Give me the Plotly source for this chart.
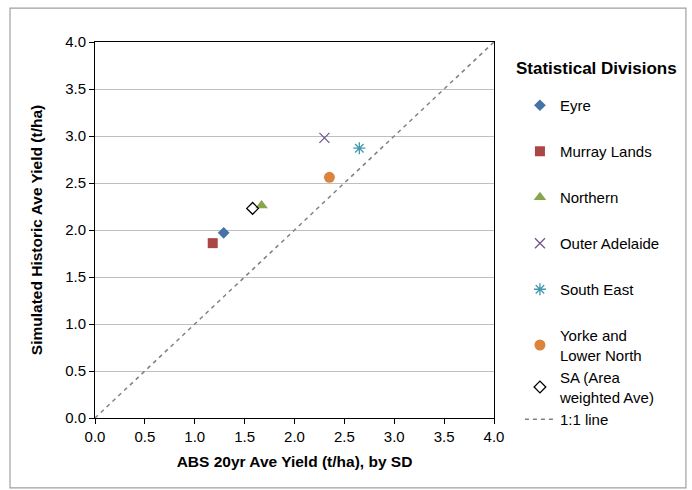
import plotly.graph_objects as go

# Average yields by Statistical Division (t/ha)
divisions = ["Eyre", "Murray Lands", "Northern", "Outer Adelaide", "South East",
             "Yorke and<br>Lower North", "SA (Area<br>weighted Ave)"]
abs_yield = [1.29, 1.18, 1.67, 2.30, 2.65, 2.35, 1.58]
sim_yield = [1.97, 1.86, 2.26, 2.98, 2.87, 2.56, 2.23]

colors = ["#4572A7", "#AA4643", "#89A54E", "#71588F", "#4198AF", "#DB843D", "#000000"]
symbols = ["diamond", "square", "triangle-up", "x-thin-open", "asterisk-open",
           "circle", "diamond-open"]
sizes = [9, 10, 11, 10, 10, 11, 9]
# the multi-line entries and the reference line share one legend group,
# so they stack without the extra group gap
groups = ["g0", "g1", "g2", "g3", "g4", "g5", "g5"]

ref_line = [0.0, 4.0]
ticks = [0.0, 0.5, 1.0, 1.5, 2.0, 2.5, 3.0, 3.5, 4.0]
tick_text = [f"{t:.1f}" for t in ticks]

FONT = "Liberation Sans, Arial, sans-serif"

fig = go.Figure()
for i, name in enumerate(divisions):
    fig.add_trace(go.Scatter(
        x=[abs_yield[i]], y=[sim_yield[i]], mode="markers", name=name,
        legendgroup=groups[i],
        marker=dict(symbol=symbols[i], size=sizes[i], color=colors[i],
                    line=dict(color=colors[i], width=1.3 if "open" in symbols[i] else 0)),
    ))

fig.add_trace(go.Scatter(
    x=ref_line, y=ref_line, mode="lines", name="1:1 line", legendgroup="g5",
    line=dict(color="#808080", width=1.5, dash="4px,4px"),
))

axis_common = dict(
    range=[0, 4], tickvals=ticks, ticktext=tick_text,
    showline=True, linecolor="#000000", linewidth=1, mirror=True,
    ticks="outside", ticklen=5, tickcolor="#000000",
    tickfont=dict(family=FONT, size=15, color="#000000"),
    zeroline=False,
)

fig.update_xaxes(**axis_common, showgrid=False,
                 title=dict(text="<b>ABS 20yr Ave Yield (t/ha), by SD</b>",
                            font=dict(family=FONT, size=15.5, color="#000000"), standoff=12))
fig.update_yaxes(**axis_common, showgrid=True, gridcolor="#BFBFBF", gridwidth=1,
                 title=dict(text="<b>Simulated Historic Ave Yield (t/ha)</b>",
                            font=dict(family=FONT, size=15.5, color="#000000"), standoff=18))

# outer chart border
fig.add_shape(type="rect", xref="paper", yref="paper",
              x0=-0.213, x1=1.481, y0=-0.186, y1=1.090,
              line=dict(color="#A0A0A0", width=1.2), fillcolor="rgba(0,0,0,0)", layer="below")

# legend heading
fig.add_annotation(text="<b>Statistical Divisions</b>", xref="paper", yref="paper",
                   x=1.050, y=0.930, xanchor="left", yanchor="middle", showarrow=False,
                   font=dict(family=FONT, size=17, color="#000000"))

fig.update_layout(
    width=692, height=490,
    margin=dict(l=95, r=198, t=42, b=72),
    paper_bgcolor="#FFFFFF", plot_bgcolor="#FFFFFF",
    font=dict(family=FONT, size=15, color="#000000"),
    legend=dict(
        x=1.065, xanchor="left", y=0.875, yanchor="top",
        font=dict(family=FONT, size=15, color="#000000"),
        tracegroupgap=23.5, bgcolor="rgba(0,0,0,0)",
    ),
)

fig.write_html("out.html")
